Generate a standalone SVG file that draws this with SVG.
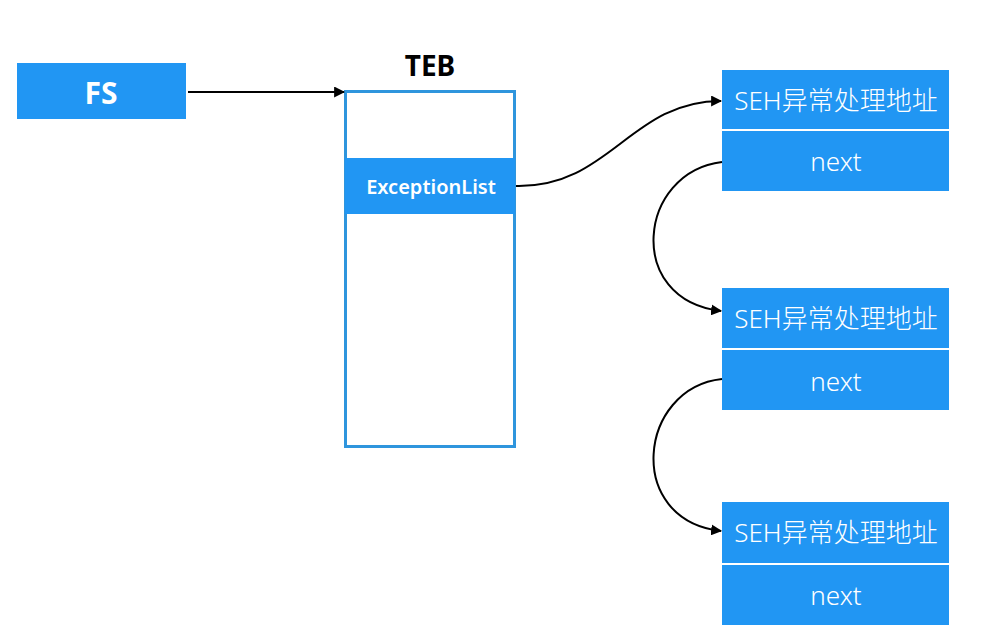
<svg xmlns="http://www.w3.org/2000/svg" width="986" height="641" viewBox="0 0 986 641">
<style>
.box{fill:#2196F3}
.wt{fill:#ffffff;font-family:"Noto Sans","Noto Sans CJK SC",sans-serif;text-anchor:middle;dominant-baseline:central}
.seh{font-size:26px;font-weight:300}
.conn{fill:none;stroke:#000;stroke-width:2}
</style>
<defs>
<marker id="ah" viewBox="0 0 10 10" refX="9" refY="5" markerWidth="5.5" markerHeight="5.5" orient="auto" markerUnits="strokeWidth">
<path d="M0,0 L10,5 L0,10 z" fill="#000"/>
</marker>
</defs>
<rect width="986" height="641" fill="#ffffff"/>
<g id="fs">
<rect class="box" x="17" y="63" width="169" height="56"/>
<text class="wt" x="101" y="92" font-size="30" font-weight="700">FS</text>
</g>
<g id="teb">
<text x="430" y="65" font-family="Noto Sans,sans-serif" font-size="28" font-weight="700" text-anchor="middle" dominant-baseline="central" fill="#000">TEB</text>
<rect x="345.5" y="91.5" width="169" height="355" fill="#ffffff" stroke="#2F95DD" stroke-width="3"/>
<rect class="box" x="345" y="158" width="170" height="56"/>
<text class="wt" x="431" y="186" font-size="20" font-weight="600">ExceptionList</text>
</g>
<g id="seh1">
<rect class="box" x="722" y="70" width="227" height="59"/>
<text class="wt seh" x="836" y="100">SEH异常处理地址</text>
<rect class="box" x="722" y="131" width="227" height="60"/>
<text class="wt seh" x="836" y="161">next</text>
</g>
<g id="seh2">
<rect class="box" x="722" y="288" width="227" height="60"/>
<text class="wt seh" x="836" y="318">SEH异常处理地址</text>
<rect class="box" x="722" y="350" width="227" height="60"/>
<text class="wt seh" x="836" y="381">next</text>
</g>
<g id="seh3">
<rect class="box" x="722" y="502" width="227" height="61"/>
<text class="wt seh" x="836" y="532">SEH异常处理地址</text>
<rect class="box" x="722" y="565" width="227" height="60"/>
<text class="wt seh" x="836" y="595">next</text>
</g>
<g id="connectors">
<path class="conn" d="M188,92 L344,92" marker-end="url(#ah)"/>
<path class="conn" d="M516,186 C610,188 630,101 721,101" marker-end="url(#ah)"/>
<path class="conn" d="M722,162 C638,172 624,300 721,311" marker-end="url(#ah)"/>
<path class="conn" d="M722,379 C638,388 624,520 721,531" marker-end="url(#ah)"/>
</g>
</svg>
